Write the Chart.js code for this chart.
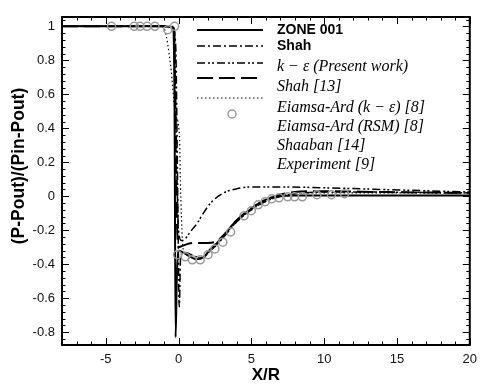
<!DOCTYPE html>
<html><head><meta charset="utf-8">
<script src="https://cdn.jsdelivr.net/npm/chart.js@4.4.1/dist/chart.umd.min.js"></script>
<style>html,body{margin:0;padding:0;background:#fff;}canvas{display:block;}</style>
</head><body>
<canvas id="c" width="484" height="386"></canvas>
<script>
// ---- data ----
const xTicks = [-5, 0, 5, 10, 15, 20];
const yTicks = [1, 0.8, 0.6, 0.4, 0.2, 0, -0.2, -0.4, -0.6, -0.8];
const yTickLabels = ['1','0.8','0.6','0.4','0.2','0','-0.2','-0.4','-0.6','-0.8'];
const xTickLabels = ['-5','0','5','10','15','20'];
const xTitle = 'X/R';
const yTitle = '(P-Pout)/(Pin-Pout)';
const legendLabels = ['ZONE 001','Shah','k \u2212 \u03b5 (Present work)','Shah [13]','Eiamsa-Ard (k \u2212 \u03b5) [8]','Eiamsa-Ard (RSM) [8]','Shaaban [14]','Experiment [9]'];

const zoneX = [-8,-4,-1,-0.5,-0.35,-0.27,-0.2,-0.12,-0.02,0.3,0.7,1.2,1.7,2.2,2.7,3.3,3.9,4.9,6,7,8,10,14,20];
const zoneY = [1,1,1,0.995,0.98,0.5,-0.83,-0.5,-0.32,-0.33,-0.35,-0.37,-0.36,-0.31,-0.27,-0.21,-0.15,-0.08,-0.02,0,0.005,0.005,0.005,0.005];

const shahX = [-8,-1,-0.4,-0.2,-0.05,0.05,0.15,0.5,1,1.6,2.2,3,4,5,6,7,8,10,13,20];
const shahY = [1,1,0.995,0.9,0,-0.65,-0.35,-0.33,-0.35,-0.36,-0.32,-0.25,-0.15,-0.08,-0.03,0,0.015,0.025,0.025,0.02];

const keX = [-8,-1,-0.5,-0.3,-0.15,0,0.2,0.4,0.8,1.3,1.7,2.2,3.1,4,5,7,10,14,20];
const keY = [1,1,1,0.98,0.3,-0.2,-0.26,-0.255,-0.21,-0.156,-0.1,-0.04,0.02,0.044,0.055,0.055,0.05,0.04,0.025];

const shah13X = [-8,-1,-0.5,-0.3,-0.15,0,0.3,1,2,2.6,3.2,4,5,6,7,8,10,14,20];
const shah13Y = [1,1,1,0.98,0,-0.3,-0.29,-0.275,-0.275,-0.265,-0.22,-0.14,-0.07,-0.02,0.01,0.025,0.03,0.025,0.02];

const eiamX = [-8,-1.2,-0.95,-0.54,-0.2,0.07,0.13,0.27,0.4,0.8,1.5,2.2,3,4,5,6,7,8,10,15,20];
const eiamY = [1,1,0.98,0.77,0.48,0.35,0.085,-0.26,-0.33,-0.35,-0.36,-0.32,-0.25,-0.15,-0.08,-0.03,0,0.015,0.02,0.02,0.018];

const expX = [-4.6,-3.04,-2.64,-2.16,-1.62,-0.74,-0.27,-0.07,0.47,0.95,1.49,2.03,2.5,3.04,3.58,4.5,5.0,5.47,5.95,6.4,6.9,7.5,7.97,8.5,9.5,10.5,11.4];
const expY = [1,1,1,1,1,0.98,1,-0.344,-0.356,-0.374,-0.374,-0.344,-0.31,-0.27,-0.21,-0.115,-0.085,-0.05,-0.032,-0.015,-0.009,-0.003,-0.003,-0.003,0.009,0.009,0.015];

const pts = (xs, ys) => xs.map((x, i) => ({x: x, y: ys[i]}));

const SANS = "'Liberation Sans', Arial, sans-serif";
const SERIF = "'Liberation Serif', 'Times New Roman', serif";

const lineDs = (label, xs, ys, dash, w) => ({
  label, data: pts(xs, ys), showLine: true, pointRadius: 0,
  borderColor: '#000', borderWidth: w, borderDash: dash, fill: false,
  tension: 0, cubicInterpolationMode: 'monotone'
});

const frameTicks = {
  id: 'frameTicks',
  afterDraw(chart) {
    const {ctx, chartArea: a, scales: {x, y}} = chart;
    ctx.save();
    ctx.strokeStyle = '#000';
    ctx.lineWidth = 1;
    ctx.beginPath();
    for (let v = -8; v <= 20; v += 1) {
      const px = Math.round(x.getPixelForValue(v)) + 0.5;
      const len = (v % 5 === 0) ? 7 : 3.5;
      ctx.moveTo(px, a.bottom); ctx.lineTo(px, a.bottom - len);
      ctx.moveTo(px, a.top); ctx.lineTo(px, a.top + len);
    }
    for (let k = -21; k <= 26; k++) {
      const v = k * 0.04;
      if (v < y.min || v > y.max) continue;
      const py = Math.round(y.getPixelForValue(v)) + 0.5;
      const len = (k % 5 === 0) ? 7 : 3.5;
      ctx.moveTo(a.left, py); ctx.lineTo(a.left + len, py);
      ctx.moveTo(a.right, py); ctx.lineTo(a.right - len, py);
    }
    ctx.stroke();
    ctx.lineWidth = 2;
    ctx.strokeRect(a.left, a.top, a.right - a.left, a.bottom - a.top);

    // y-axis title
    ctx.save();
    ctx.translate(19, 166);
    ctx.rotate(-Math.PI / 2);
    ctx.fillStyle = '#000';
    ctx.font = "bold 17.5px " + SANS;
    ctx.textAlign = 'center';
    ctx.textBaseline = 'middle';
    ctx.fillText(yTitle, 0, 0);
    ctx.restore();

    // legend
    const lx0 = 197, lx1 = 263, tx = 277;
    const samples = [
      {y: 30, dash: [], w: 2},
      {y: 46, dash: [8, 3, 2, 3], w: 1.5},
      {y: 63, dash: [8, 3, 2, 2, 2, 3], w: 1.5},
      {y: 78, dash: [16, 6], w: 2},
      {y: 98, dash: [1.5, 2.5], w: 1.2}
    ];
    samples.forEach(s => {
      ctx.beginPath();
      ctx.setLineDash(s.dash);
      ctx.lineWidth = s.w;
      ctx.moveTo(lx0, s.y); ctx.lineTo(lx1, s.y);
      ctx.stroke();
    });
    ctx.setLineDash([]);
    ctx.beginPath();
    ctx.strokeStyle = '#999';
    ctx.lineWidth = 1.5;
    ctx.arc(232, 114, 4, 0, Math.PI * 2);
    ctx.stroke();
    const textY = [30, 46, 67, 87, 108, 127, 146, 165];
    ctx.fillStyle = '#000';
    ctx.textBaseline = 'middle';
    ctx.textAlign = 'left';
    legendLabels.forEach((t, i) => {
      ctx.font = i < 2 ? "bold 14px " + SANS : "italic 16px " + SERIF;
      ctx.fillText(t, tx, textY[i]);
    });
    ctx.restore();
  }
};

new Chart(document.getElementById('c'), {
  type: 'scatter',
  data: {
    datasets: [
      {label: 'exp', data: pts(expX, expY), showLine: false, pointRadius: 4, pointBorderWidth: 1.5,
       pointBorderColor: '#999', pointBackgroundColor: 'rgba(0,0,0,0)', order: 0},
      Object.assign(lineDs(legendLabels[0], zoneX, zoneY, [], 2), {order: 1}),
      Object.assign(lineDs(legendLabels[1], shahX, shahY, [8, 3, 2, 3], 1.5), {order: 2}),
      Object.assign(lineDs(legendLabels[2], keX, keY, [8, 3, 2, 2, 2, 3], 1.5), {order: 3}),
      Object.assign(lineDs(legendLabels[3], shah13X, shah13Y, [16, 6], 2), {order: 4}),
      Object.assign(lineDs(legendLabels[4], eiamX, eiamY, [1.5, 2.5], 1.2), {order: 5})
    ]
  },
  options: {
    responsive: false, animation: false, devicePixelRatio: 1,
    layout: {padding: {top: 17, right: 8, left: 0, bottom: 0}},
    plugins: {legend: {display: false}, tooltip: {enabled: false}},
    scales: {
      x: {
        type: 'linear', min: -8, max: 20,
        afterBuildTicks: s => { s.ticks = xTicks.map(v => ({value: v})); },
        afterFit: s => { s.height = 41; },
        grid: {display: false, drawTicks: false},
        border: {display: false},
        ticks: {padding: 7, color: '#111', font: {family: SANS, size: 13},
                callback: (v) => xTickLabels[xTicks.indexOf(v)]},
        title: {display: true, text: xTitle, color: '#000', font: {family: SANS, size: 17, weight: 'bold'}, padding: {top: 4, bottom: 0}}
      },
      y: {
        type: 'linear', min: -0.875, max: 1.055,
        afterBuildTicks: s => { s.ticks = yTicks.map(v => ({value: v})); },
        afterFit: s => { s.width = 62; },
        grid: {display: false, drawTicks: false},
        border: {display: false},
        ticks: {padding: 7, color: '#111', font: {family: SANS, size: 13},
                callback: (v) => yTickLabels[yTicks.indexOf(v)]}
      }
    }
  },
  plugins: [frameTicks]
});
</script>
</body></html>
